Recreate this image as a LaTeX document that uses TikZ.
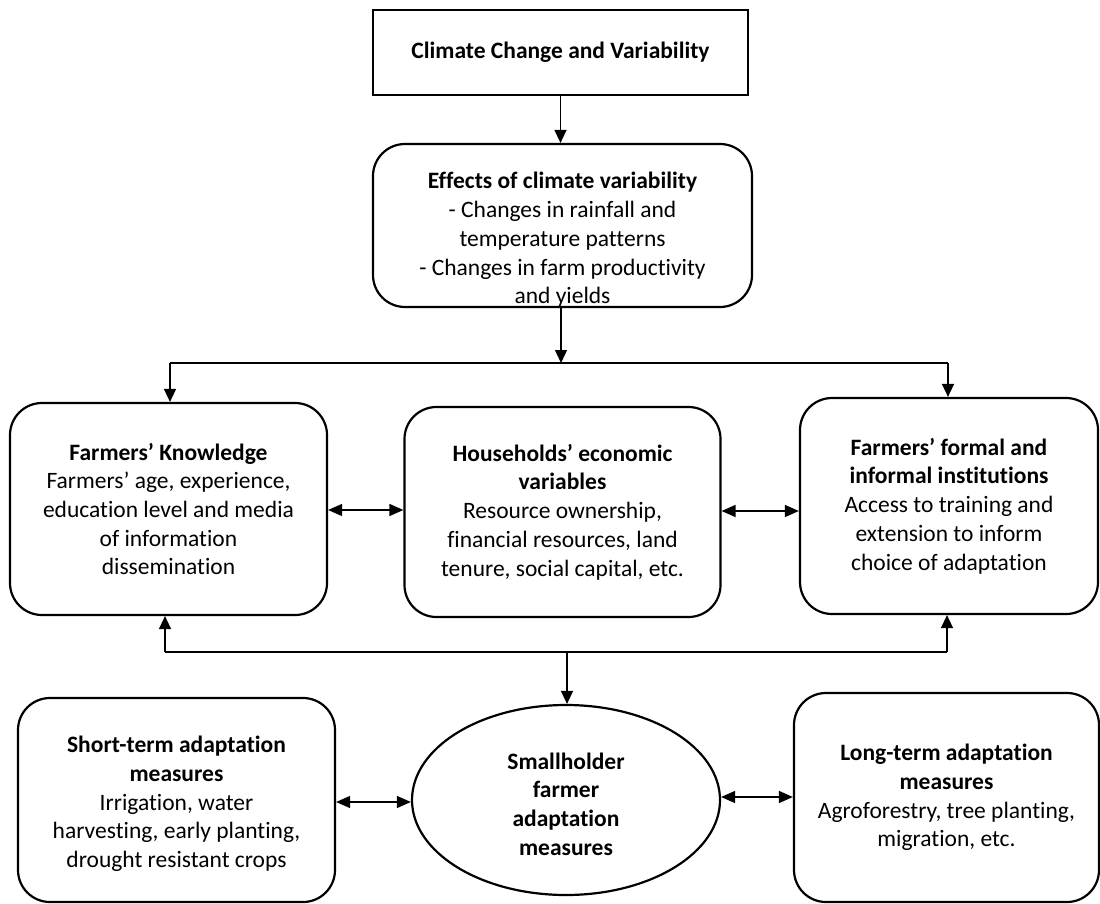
\documentclass[tikz,border=0pt]{standalone}
\usepackage{fontspec}
\setmainfont{Carlito}[Ligatures={NoCommon,NoRare,NoContextual},Contextuals=NoAlternate]
\usetikzlibrary{arrows.meta,shapes.geometric,calc}
\tikzset{
  base/.style={draw=black, line width=2.2pt, align=center, font=\fontsize{23.5}{28.7}\selectfont, inner sep=0pt},
  rbox/.style={base, rounded corners=32pt},
  sbox/.style={base, line width=2pt},
  ell/.style={base, ellipse},
  txt/.style={align=center, font=\fontsize{23.5}{28.7}\selectfont, inner sep=0pt},
  conn/.style={draw=black, line width=1.4pt},
  arr/.style={conn, -{Triangle[length=13pt,width=12pt]}},
  dbl/.style={conn, {Triangle[length=14pt,width=12pt]}-{Triangle[length=14pt,width=12pt]}}
}
\begin{document}
\begin{tikzpicture}[x=1pt,y=-1pt]
\useasboundingbox (0,0) rectangle (1100,904);
% boxes
\node[sbox, minimum width=375pt, minimum height=85pt] (top) at (560.5,52.5) {\textbf{Climate Change and Variability}};
\node[rbox, minimum width=379pt, minimum height=163pt] (eff) at (562.5,225.5) {};
\node[txt] at (562.5,240) {\textbf{Effects of climate variability}\\- Changes in rainfall and\\temperature patterns\\- Changes in farm productivity\\and yields};
\node[rbox, minimum width=317pt, minimum height=212pt] (fk) at (168.5,509) {\textbf{Farmers’ Knowledge}\\Farmers’ age, experience,\\education level and media\\of information\\dissemination};
\node[rbox, minimum width=316pt, minimum height=210pt] (he) at (562.5,512) {\textbf{Households’ economic}\\\textbf{variables}\\Resource ownership,\\financial resources, land\\tenure, social capital, etc.};
\node[rbox, minimum width=298pt, minimum height=216pt] (fi) at (949,506) {\textbf{Farmers’ formal and}\\\textbf{informal institutions}\\Access to training and\\extension to inform\\choice of adaptation};
\node[rbox, minimum width=317pt, minimum height=204pt] (st) at (176.5,800) {};
\node[txt] at (176.5,804) {\textbf{Short-term adaptation}\\\textbf{measures}\\Irrigation, water\\harvesting, early planting,\\drought resistant crops};
\node[rbox, minimum width=305pt, minimum height=209pt] (lt) at (946.5,797.5) {\textbf{Long-term adaptation}\\\textbf{measures}\\Agroforestry, tree planting,\\migration, etc.};
\node[ell, minimum width=308pt, minimum height=190pt] (el) at (566,800) {};
\node[txt] at (566,804) {\textbf{Smallholder}\\\textbf{farmer}\\\textbf{adaptation}\\\textbf{measures}};
% connector points
\coordinate (s1) at (561,363);
\coordinate (b1) at (170,363);
\coordinate (b2) at (948,363);
\coordinate (s2) at (567,652);
\coordinate (c1) at (165,652);
\coordinate (c2) at (947,652);
\coordinate (y1) at (0,510);
\coordinate (y2) at (0,511);
\coordinate (y3) at (0,802);
\coordinate (y4) at (0,797);
% connectors
\draw[arr] (top.south) -- (top.south |- eff.north);
\draw[arr] (s1 |- eff.south) -- (s1);
\draw[conn] (b1) -- (b2);
\draw[arr] (b1) -- (b1 |- fk.north);
\draw[arr] (b2) -- (b2 |- fi.north);
\draw[conn] (c1) -- (c2);
\draw[arr] (c1) -- (c1 |- fk.south);
\draw[arr] (c2) -- (c2 |- fi.south);
\draw[arr] (s2) -- (s2 |- el.north);
\draw[dbl] (fk.east |- y1) -- (he.west |- y1);
\draw[dbl] (he.east |- y2) -- (fi.west |- y2);
\draw[dbl] (st.east |- y3) -- (el.west |- y3);
\draw[dbl] (el.east |- y4) -- (lt.west |- y4);
\end{tikzpicture}
\end{document}
